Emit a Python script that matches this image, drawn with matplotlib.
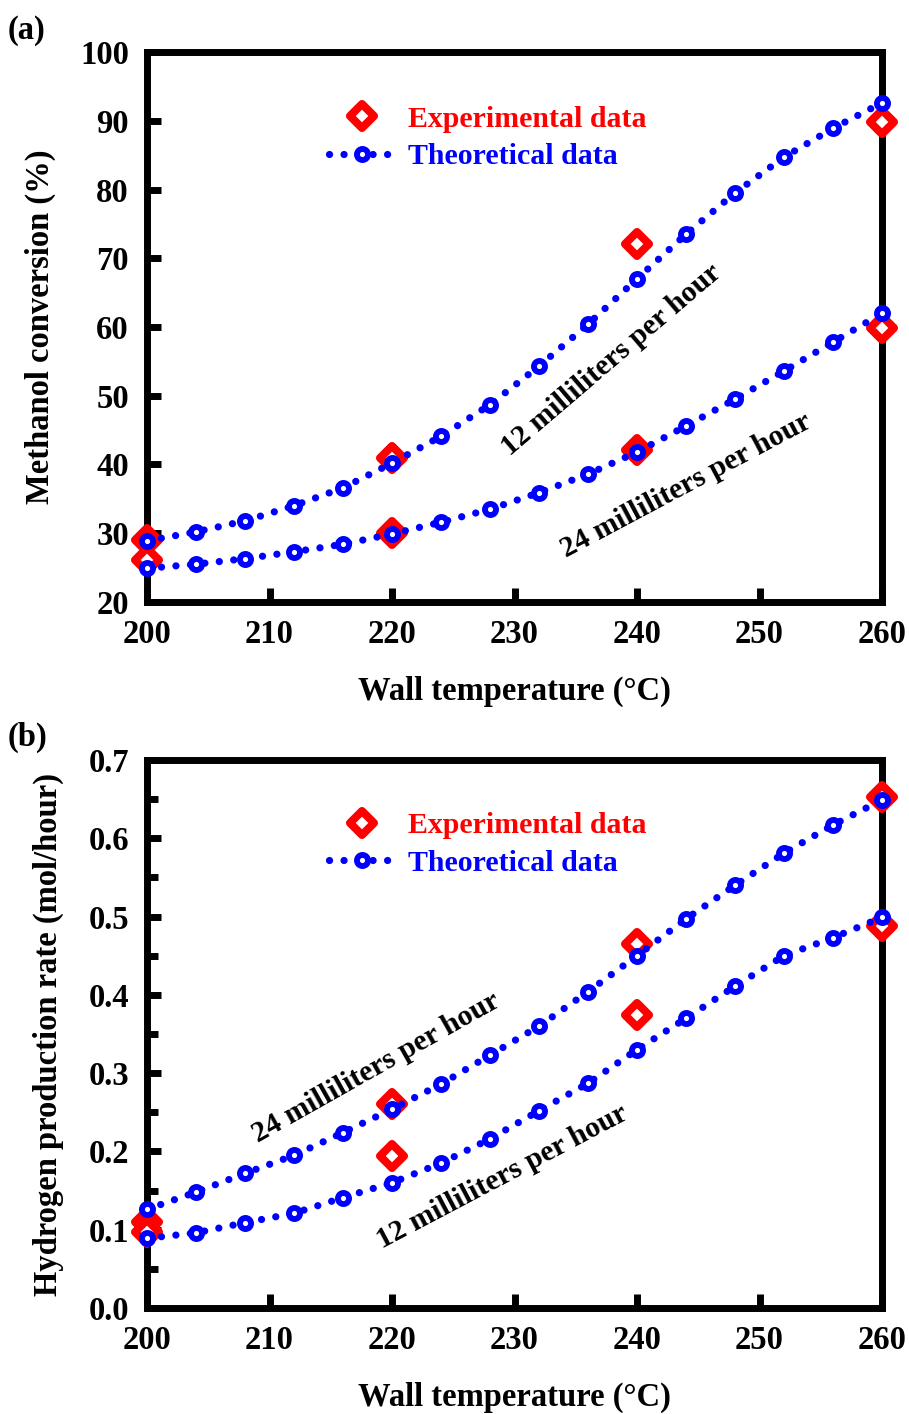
import matplotlib
matplotlib.use("Agg")
import matplotlib.pyplot as plt
from matplotlib.lines import Line2D
from matplotlib.markers import MarkerStyle

plt.rcParams['font.family'] = ['Liberation Serif', 'DejaVu Serif']
plt.rcParams['font.weight'] = 'bold'

# ---------------- data ----------------
T_theory = [200, 204, 208, 212, 216, 220, 224, 228, 232, 236, 240, 244, 248, 252, 256, 260]
T_exp = [200, 220, 240, 260]

# (a) Methanol conversion (%)
conv_12_theory = [28.9, 30.2, 31.8, 34.0, 36.6, 40.2, 44.1, 48.7, 54.3, 60.4, 67.0, 73.5, 79.5, 84.7, 88.9, 92.6]
conv_24_theory = [24.9, 25.5, 26.3, 27.3, 28.4, 29.9, 31.6, 33.5, 35.9, 38.6, 41.8, 45.6, 49.5, 53.6, 57.8, 62.0]
conv_12_exp = [29.0, 40.9, 72.1, 89.8]
conv_24_exp = [26.1, 30.0, 42.1, 59.9]

# (b) Hydrogen production rate (mol/hour)
h2_24_theory = [0.126, 0.148, 0.172, 0.195, 0.224, 0.254, 0.286, 0.323, 0.360, 0.404, 0.450, 0.497, 0.540, 0.581, 0.617, 0.649]
h2_12_theory = [0.089, 0.096, 0.109, 0.121, 0.141, 0.160, 0.185, 0.216, 0.252, 0.287, 0.330, 0.370, 0.411, 0.450, 0.473, 0.499]
h2_24_exp = [0.110, 0.261, 0.465, 0.653]
h2_12_exp = [0.097, 0.194, 0.374, 0.488]

x_ticks = [200, 210, 220, 230, 240, 250, 260]
ya_ticks = [20, 30, 40, 50, 60, 70, 80, 90, 100]
yb_ticks = [0.0, 0.1, 0.2, 0.3, 0.4, 0.5, 0.6, 0.7]
yb_minor = [0.05, 0.15, 0.25, 0.35, 0.45, 0.55, 0.65]

# ---------------- style ----------------
W, H = 909, 1414
fig = plt.figure(figsize=(W / 100, H / 100), dpi=100)

BLUE = '#0000ff'
RED = '#ff0000'
FS = 23.5
FS_LEG = 21.5
FS_ANN = 21.5

theory_kw = dict(color=BLUE, lw=5.2, linestyle=(0, (0.01, 2.0)), dash_capstyle='round',
                 marker='o', ms=8.0, mfc='white', mec=BLUE, mew=4.2, zorder=4, clip_on=False)
exp_kw = dict(linestyle='none', marker=MarkerStyle('D', joinstyle='round'), ms=12, mfc='white',
              mec=RED, mew=5.8, zorder=3, clip_on=False)


def px_axes(l, t, r, b):
    return fig.add_axes([l / W, 1 - b / H, (r - l) / W, (b - t) / H])


def style_axes(ax, yticks, ylim, yfmt, minor=None):
    ax.set_xlim(200, 260)
    ax.set_ylim(*ylim)
    ax.set_xticks(x_ticks)
    ax.set_yticks(yticks)
    ax.set_yticklabels([yfmt.format(v) for v in yticks])
    if minor is not None:
        ax.set_yticks(minor, minor=True)
    for s in ax.spines.values():
        s.set_linewidth(5.0)
    ax.tick_params(axis='both', which='major', direction='in', length=10, width=5.0,
                   labelsize=FS, top=False, right=False)
    ax.tick_params(axis='x', which='major', pad=12)
    ax.tick_params(axis='y', which='major', pad=13)
    ax.tick_params(axis='both', which='minor', direction='in', length=8, width=5.0,
                   top=False, right=False)
    for lab in ax.get_xticklabels() + ax.get_yticklabels():
        lab.set_fontweight('bold')
    ax.set_xlabel('Wall temperature (°C)', fontsize=FS, fontweight='bold')


def legend(ax, ytop):
    h1 = Line2D([], [], color=RED, **exp_kw)
    h2 = Line2D([], [], **theory_kw)
    leg = ax.legend([h1, h2], ['Experimental data', 'Theoretical data'],
                    loc='upper left', bbox_to_anchor=(0.248, ytop), frameon=False,
                    fontsize=FS_LEG, handlelength=2.2, numpoints=1, handletextpad=0.42,
                    labelspacing=0.35, borderpad=0, borderaxespad=0)
    for t, c in zip(leg.get_texts(), [RED, BLUE]):
        t.set_color(c)
        t.set_fontweight('bold')


def set_label_px(ax, lx, ly, l, t, r, b, which):
    # label centre given in figure pixels -> axes fraction
    fx = (lx - l) / (r - l)
    fy = (b - ly) / (b - t)
    if which == 'x':
        ax.xaxis.set_label_coords(fx, fy)
    else:
        ax.yaxis.set_label_coords(fx, fy)


# ---------------- panel (a) ----------------
A = (147, 52, 882, 602)
axa = px_axes(*A)
axa.plot(T_theory, conv_12_theory, **theory_kw)
axa.plot(T_theory, conv_24_theory, **theory_kw)
axa.plot(T_exp, conv_12_exp, **exp_kw)
axa.plot(T_exp, conv_24_exp, **exp_kw)
style_axes(axa, ya_ticks, (20, 100), '{:d}')
axa.set_ylabel('Methanol conversion (%)', fontsize=FS, fontweight='bold')
axa.xaxis.label.set_va('center')
axa.yaxis.label.set_va('center')
set_label_px(axa, 514, 691, *A, 'x')
set_label_px(axa, 40, 327, *A, 'y')
legend(axa, 0.902)
axa.text(237.9, 55.2, '12 milliliters per hour', rotation=40.5, fontsize=FS_ANN, fontweight='bold',
         ha='center', va='center', rotation_mode='anchor')
axa.text(244.0, 37.0, '24 milliliters per hour', rotation=28, fontsize=FS_ANN, fontweight='bold',
         ha='center', va='center', rotation_mode='anchor')
fig.text(8 / W, 1 - 30 / H, '(a)', fontsize=FS, fontweight='bold', va='center', ha='left')

# ---------------- panel (b) ----------------
B = (147, 760, 882, 1308)
axb = px_axes(*B)
axb.plot(T_theory, h2_24_theory, **theory_kw)
axb.plot(T_theory, h2_12_theory, **theory_kw)
axb.plot(T_exp, h2_24_exp, **exp_kw)
axb.plot(T_exp, h2_12_exp, **exp_kw)
style_axes(axb, yb_ticks, (0, 0.7), '{:.1f}', minor=yb_minor)
axb.set_ylabel('Hydrogen production rate (mol/hour)', fontsize=FS, fontweight='bold')
axb.xaxis.label.set_va('center')
axb.yaxis.label.set_va('center')
set_label_px(axb, 514, 1397, *B, 'x')
set_label_px(axb, 48, 1035, *B, 'y')
legend(axb, 0.905)
axb.text(218.7, 0.3066, '24 milliliters per hour', rotation=29.4, fontsize=FS_ANN, fontweight='bold',
         ha='center', va='center', rotation_mode='anchor')
axb.text(229.0, 0.1673, '12 milliliters per hour', rotation=27.8, fontsize=FS_ANN, fontweight='bold',
         ha='center', va='center', rotation_mode='anchor')
fig.text(8 / W, 1 - 737 / H, '(b)', fontsize=FS, fontweight='bold', va='center', ha='left')

fig.savefig('out.png', dpi=100)
